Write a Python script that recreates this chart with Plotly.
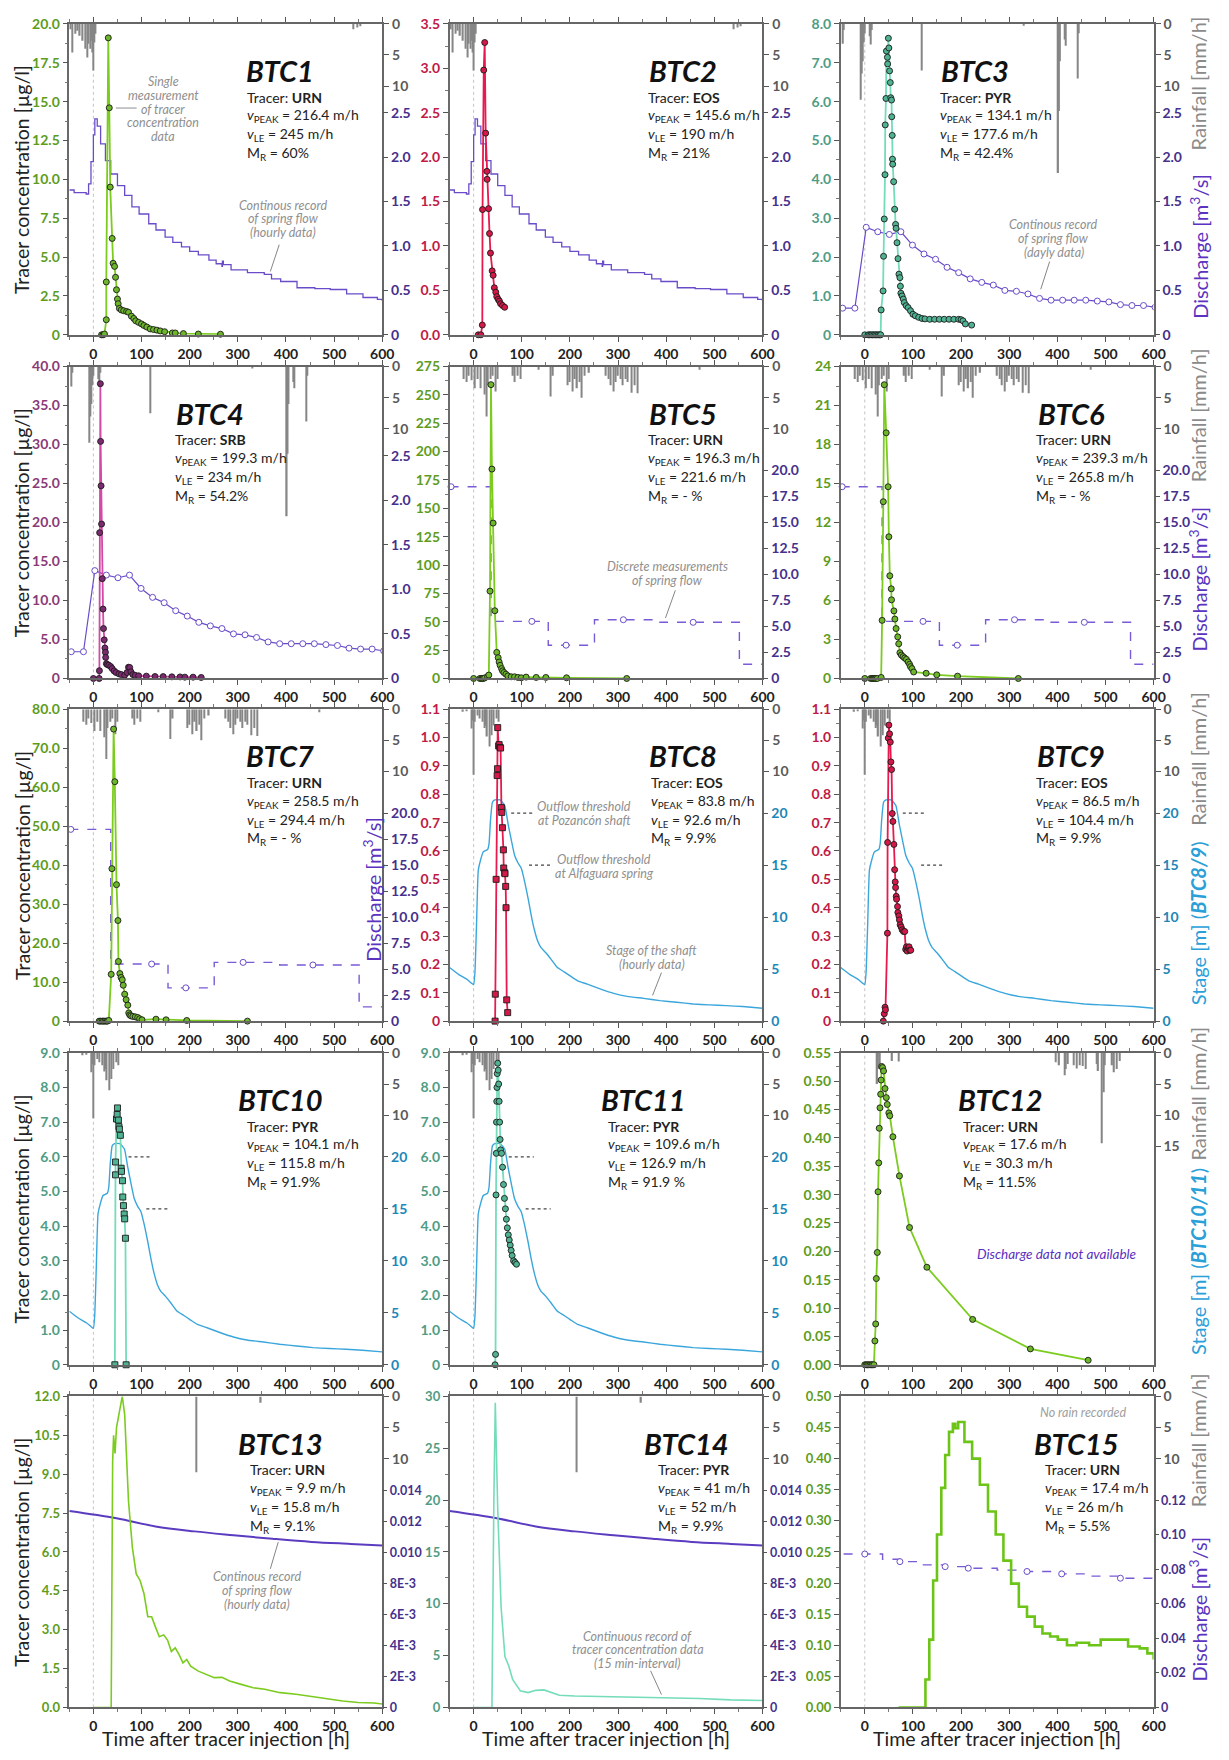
import plotly.graph_objects as go

W, H = 1229, 1760
COLS = [(70, 386), (454, 770), (849, 1165)]
ROWS = [(15, 329), (361, 676), (707, 1022), (1054, 1369), (1401, 1715)]
FONT = "Lato, 'Open Sans', sans-serif"

# ---------------- tracer data (time h, concentration) ----------------
BTC1_T = [17, 20, 23, 26.8, 26.8, 30.9, 33, 35, 39, 41, 44, 46, 48, 50, 51.5, 54, 58, 63, 69, 73, 79, 84, 88, 94, 100, 105, 111, 118, 125, 132, 139, 148, 164, 170, 187, 218, 264]
BTC1_C = [0, 0, 0.05, 0.97, 3.4, 19.1, 14.6, 9.5, 6.2, 4.6, 4.4, 3.7, 2.9, 2.3, 2.0, 1.7, 1.6, 1.55, 1.5, 1.45, 1.2, 1.05, 0.9, 0.8, 0.7, 0.6, 0.5, 0.38, 0.34, 0.3, 0.25, 0.2, 0.12, 0.12, 0.08, 0.05, 0.04]
BTC2_T = [9.6, 15, 18, 18.5, 21, 23, 25, 27.5, 28, 31, 33, 35, 38.5, 40.5, 43, 46, 48, 51, 53.5, 56, 60, 64.5]
BTC2_C = [0, 0, 0.11, 1.41, 2.98, 3.29, 2.27, 1.84, 1.75, 1.42, 1.14, 0.92, 0.72, 0.67, 0.53, 0.48, 0.43, 0.40, 0.38, 0.35, 0.33, 0.31]
BTC3_T = [0, 7, 10, 13, 16, 19, 22, 25, 28, 31, 33,
          34, 38, 39, 40.5, 42, 42.5, 44, 45, 47, 47.5, 49, 50, 51.5, 53, 54, 55.5, 56, 57, 57.5, 58,
          60, 62, 64, 65, 67, 69, 71, 73, 74, 75, 77.5, 80, 82, 86, 90, 95, 100, 105, 112, 119,
          125, 135, 145, 155, 165, 175, 185, 195, 200, 204, 209, 222]
BTC3_C = [0, 0, 0, 0, 0, 0, 0, 0, 0, 0, 0,
          0.64, 1.13, 2.02, 2.98, 4.12, 5.4, 6.08, 7.3, 7.14, 6.97, 7.63, 7.38, 6.79, 6.49, 6.1, 6.04, 5.61, 5.13, 4.52, 4.39,
          3.94, 3.23, 2.84, 2.74, 2.37, 1.96, 1.56, 1.47, 1.25, 1.07, 1.0, 0.92, 0.83, 0.75, 0.70, 0.62, 0.53, 0.49, 0.45, 0.42,
          0.41, 0.40, 0.40, 0.40, 0.40, 0.40, 0.40, 0.40, 0.39, 0.36, 0.28, 0.25]
BTC4_T = [0, 12, 12.5, 13, 14.5, 15, 16, 17, 18.5, 20, 21, 22.5, 24, 25, 25.5, 27, 29, 32, 36, 39, 43, 47, 53, 58, 65, 70, 73, 75.5, 78, 82, 87, 94, 110, 128, 145, 163, 180, 190, 207, 224]
BTC4_C = [0, 0, 1.0, 18.7, 37.8, 30.4, 24.7, 19.8, 12.8, 8.9, 6.4, 4.95, 3.9, 3.35, 2.7, 1.9, 1.78, 1.7, 1.52, 1.27, 0.97, 0.76, 0.59, 0.5, 0.42, 0.76, 1.44, 1.4, 0.85, 0.5, 0.4, 0.34, 0.3, 0.25, 0.24, 0.21, 0.2, 0.17, 0.17, 0.13]
BTC5_T = [0, 13, 16, 18, 20, 23, 29, 31.5, 34, 36, 38, 40.5, 44, 48, 51, 53, 55, 58, 60, 63, 67, 71, 78, 85, 92, 99, 109, 130, 150, 193, 318]
BTC5_C = [0, 0, 0, 0, 0, 0.5, 1.7, 3, 77, 259, 184.6, 137, 59.7, 23, 18.3, 14.5, 11.6, 8.7, 6.7, 5.2, 3.8, 2.3, 1.5, 1.5, 0.9, 0.6, 1.2, 0.9, 0.9, 0.6, 0]
BTC6_T = [0, 12, 15, 17, 19, 21, 23, 26, 34, 36, 38.5, 40.5, 44.5, 48.5, 50, 52, 55, 55.5, 60.5, 62.5, 65, 68.5, 70.5, 73, 76, 79.5, 83, 86.5, 90, 93, 95, 98, 101.5, 127.5, 149.5, 192.7, 319]
BTC6_C = [0, 0, 0, 0, 0, 0, 0, 0, 0.08, 4.47, 13.6, 22.6, 18.9, 14.75, 10.9, 7.9, 6.9, 6.05, 5.2, 4.57, 3.84, 3.2, 2.67, 1.98, 1.8, 1.68, 1.57, 1.47, 1.27, 1.09, 0.91, 0.76, 0.5, 0.4, 0.28, 0.18, 0]
BTC7_T = [12, 15, 18.5, 21, 24, 27, 29, 32, 37, 38.5, 42, 44.5, 48, 51, 52, 55, 57.5, 60, 62, 65, 68, 71.5, 73.5, 75.5, 78, 82, 87, 92, 96, 101, 130, 151, 194, 320]
BTC7_C = [0, 0, 0, 0, 0, 0, 0, 0.17, 12.0, 39.1, 74.9, 61.4, 35.0, 25.8, 15.3, 12.2, 11.2, 10.6, 9.2, 6.9, 5.5, 4.1, 2.1, 1.6, 1.35, 1.2, 1.1, 0.93, 0.6, 0.34, 0.5, 0.34, 0.17, 0]
BTC8_T = [44.6, 45, 46.7, 48.8, 49.5, 50, 52, 53, 55, 56, 57.7, 58.4, 59.8, 61.8, 62.5, 64.6, 65, 66.6, 67.3, 68.7, 70.7]
BTC8_C = [0, 0.095, 0.5, 0.866, 0.89, 1.035, 0.97, 0.975, 0.965, 0.963, 0.753, 0.736, 0.682, 0.604, 0.54, 0.523, 0.52, 0.475, 0.4, 0.075, 0.03]
BTC9_T = [38.5, 40.5, 42, 43, 47, 47.4, 48.8, 50, 51.5, 53, 54.3, 55.7, 57, 58.4, 60.5, 62, 63.2, 64, 65.3, 66, 68, 68.7, 70.8, 72, 73.5, 75.6, 77.7, 80.4, 83, 85, 86.6, 88, 90, 92, 93.5, 95.5]
BTC9_C = [0, 0.026, 0.049, 0.04, 0.31, 0.63, 0.998, 1.044, 1.013, 0.984, 0.914, 0.887, 0.732, 0.704, 0.623, 0.534, 0.491, 0.471, 0.44, 0.43, 0.404, 0.383, 0.371, 0.357, 0.34, 0.332, 0.322, 0.316, 0.316, 0.253, 0.262, 0.247, 0.258, 0.262, 0.25, 0.25]
BTC10_T = [44.6, 46, 46, 48, 49.4, 50, 52, 53, 54, 56, 57.7, 58.3, 60.4, 61, 62.5, 64, 65, 66.6, 68]
BTC10_C = [0, 5.48, 5.85, 7.09, 7.22, 7.41, 7.06, 6.87, 6.80, 6.62, 5.67, 5.58, 5.31, 4.84, 4.59, 4.35, 4.21, 3.65, 0]
BTC11_T = [44.5, 45.5, 46.5, 47, 47.5, 48, 48.5, 49, 50, 51, 52, 53, 54, 55, 56, 58, 60, 62, 64, 66, 68, 70, 72, 74, 76, 78, 80, 83, 86, 89]
BTC11_C = [0, 0.3, 4.9, 6.1, 7.0, 7.6, 8.0, 8.4, 8.7, 8.5, 8.1, 7.6, 7.0, 6.5, 6.2, 6.1, 5.7, 5.2, 4.8, 4.5, 4.2, 3.95, 3.75, 3.6, 3.45, 3.3, 3.15, 3.0, 2.95, 2.9]
BTC12_T = [0, 3, 5.5, 8, 11, 14, 16, 19, 21, 22.7, 24, 26, 27.5, 29, 30, 31.6, 33, 34, 35, 37, 39, 42, 44.7, 46.7, 50, 52, 58.4, 72, 93, 129, 224, 344, 464]
BTC12_C = [0, 0, 0, 0, 0, 0, 0, 0, 0.042, 0.072, 0.152, 0.198, 0.305, 0.356, 0.417, 0.453, 0.477, 0.502, 0.526, 0.524, 0.518, 0.487, 0.471, 0.459, 0.444, 0.439, 0.402, 0.333, 0.242, 0.172, 0.08, 0.028, 0.008]
BTC13_T = [0, 37, 40, 42, 45, 48, 52, 56, 60, 65, 73, 81, 89, 97, 105, 113, 121, 129, 137, 146, 154, 162, 170, 178, 186, 194, 202, 218, 235, 251, 267, 283, 307, 332, 356, 388, 421, 453, 485, 518, 550, 583, 600]
BTC13_C = [0, 0, 9.5, 10.5, 9.8, 10.8, 11.2, 11.6, 12.0, 11.3, 7.95, 6.17, 5.15, 4.9, 4.4, 3.5, 3.5, 3.1, 2.73, 2.8, 2.6, 2.16, 2.3, 2.04, 1.72, 1.85, 1.59, 1.4, 1.27, 1.15, 1.16, 1.02, 0.89, 0.76, 0.70, 0.57, 0.51, 0.42, 0.34, 0.25, 0.19, 0.17, 0.13]
BTC14_T = [0, 38, 42, 45, 50, 57, 65, 73, 81, 97, 113, 129, 146, 162, 178, 210, 275, 340, 405, 469, 534, 600]
BTC14_C = [0, 0, 20.0, 29.4, 19.2, 9.7, 4.9, 4.0, 2.7, 1.6, 1.43, 1.65, 1.69, 1.43, 1.18, 1.11, 1.05, 1.05, 0.95, 0.86, 0.73, 0.67]
BTC15_T = [70, 115, 118, 126, 134, 142, 150, 159, 167, 175, 183, 188, 194, 207, 223, 239, 256, 272, 288, 304, 320, 337, 353, 369, 385, 401, 420, 440, 466, 490, 531, 547, 571, 587, 600]
BTC15_C = [0, 0, 0, 0.045, 0.109, 0.204, 0.278, 0.353, 0.406, 0.443, 0.456, 0.449, 0.459, 0.427, 0.40, 0.358, 0.315, 0.278, 0.236, 0.199, 0.162, 0.146, 0.13, 0.119, 0.114, 0.109, 0.100, 0.104, 0.100, 0.109, 0.109, 0.098, 0.095, 0.087, 0.077]

# ---------------- discharge / stage ----------------
FLOW12_T = [-50, -42, -40, -15, -10, -5, 0, 3, 8, 15, 25, 36, 50, 65, 80, 95, 115, 130, 149, 165, 183, 200, 218, 240, 255, 267, 268, 270, 286, 320, 355, 370, 389, 423, 460, 492, 526, 560, 590, 600]
FLOW12_Q = [1.63, 1.63, 1.60, 1.585, 1.70, 1.95, 2.25, 2.43, 2.35, 2.15, 1.96, 1.81, 1.68, 1.57, 1.44, 1.36, 1.25, 1.18, 1.10, 1.04, 0.99, 0.94, 0.90, 0.84, 0.80, 0.77, 0.83, 0.79, 0.73, 0.70, 0.68, 0.63, 0.60, 0.53, 0.52, 0.51, 0.46, 0.42, 0.40, 0.38]
FLOW34_T = [-46, -20.6, 3, 27, 51, 75, 99, 123, 147, 171, 195, 219, 243, 267, 291, 315, 339, 363, 387, 411, 435, 459, 483, 507, 531, 555, 579, 603]
FLOW34_Q = [0.30, 0.30, 1.21, 1.16, 1.13, 1.16, 1.01, 0.91, 0.85, 0.76, 0.70, 0.63, 0.59, 0.56, 0.50, 0.49, 0.46, 0.41, 0.39, 0.39, 0.39, 0.39, 0.38, 0.37, 0.34, 0.33, 0.33, 0.31]
FLOW567_T = [-50, 36, 155, 251, 387, 552, 600]
FLOW567_Q = [18.44, 5.49, 3.2, 5.65, 5.4, 1.37, 1.37]
FLOW567_MT = [-47, 121, 192, 311, 456]
FLOW567_MQ = [18.44, 5.49, 3.2, 5.65, 5.4]
STAGE_T = [-50, -31.6, -14.4, -4, 0, 2.7, 6, 9.6, 14.4, 20, 29, 32, 35, 39, 44, 55, 64.6, 71.4, 78.3, 85, 92, 99, 106, 113, 120, 126, 133, 140, 150, 161, 174, 188, 202, 216, 236, 264, 291, 319, 353, 387, 422, 456, 490, 525, 559, 600]
STAGE_H = [5.15, 4.5, 4.04, 3.63, 3.5, 4.67, 9.3, 14.5, 15.5, 16.28, 16.5, 17.07, 19.3, 21.05, 21.27, 21.27, 20.73, 19.0, 17.4, 15.96, 15.23, 14.7, 13.4, 11.83, 10.08, 8.81, 7.7, 7.06, 6.58, 5.94, 5.15, 4.74, 4.3, 3.88, 3.56, 3.08, 2.67, 2.38, 2.19, 1.97, 1.81, 1.65, 1.56, 1.49, 1.4, 1.24]
THRESH_LEVEL = [20, 15]
THR8_START, THR8_END = [78, 115], [126, 164]
THR9_START, THR9_END = [79, 117], [126, 164]
THR10_START, THR10_END = [73, 110], [121, 159]
THR11_START, THR11_END = [73, 108], [125, 160]
FLOW1314_T = [-50, 48, 129, 210, 291, 372, 453, 534, 600]
FLOW1314_Q = [0.0127, 0.01223, 0.0117, 0.01138, 0.01113, 0.0109, 0.0107, 0.01057, 0.01047]
FLOW15_T = [-44, 37, 73, 120, 167, 215, 275, 337, 409, 470, 531, 600]
FLOW15_Q = [0.0888, 0.0858, 0.0844, 0.0825, 0.0815, 0.0806, 0.0795, 0.0787, 0.0773, 0.0760, 0.0748, 0.0748]
FLOW15_MT = [0, 73, 167, 215, 337, 409, 531]
FLOW15_MQ = [0.0888, 0.0844, 0.0815, 0.0806, 0.0787, 0.0773, 0.0748]

# ---------------- rainfall (mm/h) ----------------
RAIN12_T = [-47, -43, -38, -33, -28, -22, -17, -13, -10, -7, -4, -2, 0, 2, 5, 540, 548, 555]
RAIN12_P = [0.85, 4.6, 1.6, 1.1, 1.9, 2.7, 4.0, 5.4, 3.2, 4.0, 2.7, 4.6, 7.5, 3.0, 1.6, 0.85, 0.6, 0.4]
RAIN34_T = [-45, -43, -8, -6, -4, -2, 0, 10, 12, 14, 119, 330, 402, 404, 406, 415, 417, 443, 445]
RAIN34_P = [3.2, 1.0, 12.2, 8.0, 6.0, 3.0, 1.5, 2.0, 3.3, 1.0, 7.5, 0.3, 24.0, 14.0, 6.0, 2.5, 3.5, 8.8, 1.5]
RAIN567_T = [-20, -15, -10, -5, 3, 8, 15, 22, 27, 30, 35, 40, 46, 50, 82, 85, 92, 98, 135, 160, 165, 195, 200, 205, 210, 215, 220, 225, 230, 240, 275, 280, 285, 290, 295, 300, 305, 310, 315, 320, 328, 335, 340, 470]
RAIN567_P = [2.0, 2.5, 1.5, 2.2, 3.5, 2.0, 3.5, 4.5, 8.0, 3.0, 2.0, 1.5, 4.0, 2.0, 1.5, 2.5, 1.5, 2.0, 0.5, 4.8, 1.5, 3.0, 2.5, 4.0, 2.0, 3.5, 2.5, 5.0, 1.5, 1.0, 1.5, 2.0, 3.0, 4.0, 2.5, 1.5, 2.0, 3.0, 2.0, 2.5, 4.2, 3.0, 4.3, 0.5]
RAIN811_T = [-22, -15, -5, -2, 0, 3, 8, 13, 18, 22, 25, 28, 33, 37, 42, 48, 52]
RAIN811_P = [0.4, 0.3, 3.1, 1.8, 10.5, 2.0, 1.0, 1.5, 2.0, 3.0, 2.6, 4.4, 6.0, 4.2, 2.6, 1.5, 2.0]
RAIN12B_T = [26, 28, 31, 57, 71, 397, 404, 415, 418, 422, 434, 440, 446, 452, 459, 481, 485, 493, 496, 499, 514, 518, 524, 529]
RAIN12B_P = [5.0, 2.6, 2.1, 1.3, 1.4, 1.5, 2.0, 3.6, 2.6, 1.8, 2.0, 2.5, 2.0, 2.1, 2.6, 1.8, 2.9, 14.5, 6.3, 2.0, 2.0, 3.1, 2.6, 1.3]
RAIN1314_T = [214, 348]
RAIN1314_P = [12.2, 1.0]
RAIN15_T = []
RAIN15_P = []

# ---------------- text data ----------------
NAMES = ["BTC1", "BTC2", "BTC3", "BTC4", "BTC5", "BTC6", "BTC7", "BTC8", "BTC9", "BTC10", "BTC11", "BTC12", "BTC13", "BTC14", "BTC15"]
TRACERS = ["URN", "EOS", "PYR", "SRB", "URN", "URN", "URN", "EOS", "EOS", "PYR", "PYR", "URN", "URN", "PYR", "URN"]
V_PEAK = ["216.4", "145.6", "134.1", "199.3", "196.3", "239.3", "258.5", "83.8", "86.5", "104.1", "109.6", "17.6", "9.9", "41", "17.4"]
V_LE = ["245", "190", "177.6", "234", "221.6", "265.8", "294.4", "92.6", "104.4", "115.8", "126.9", "30.3", "15.8", "52", "26"]
M_R = ["60%", "21%", "42.4%", "54.2%", "- %", "- %", "- %", "9.9%", "9.9%", "91.9%", "91.9 %", "11.5%", "9.1%", "9.9%", "5.5%"]
X_TICKS = [0, 100, 200, 300, 400, 500, 600]

# colours
GREEN_L, GREEN_M, GREEN_T = "#7ccb1f", "#6db52b", "#5e9c1c"
RED_L, RED_M, RED_T = "#e8194e", "#d41848", "#c01a45"
TEAL_L, TEAL_M, TEAL_T = "#74dcb8", "#4fb393", "#4f9c84"
PLUM_L, PLUM_M, PLUM_T = "#d24aa6", "#7c2a70", "#8a3a78"
PURPLE, PURPLE_T = "#6a4cc9", "#46308c"
STAGE_C, STAGE_TC = "#3aa6dc", "#1d87b8"


def tick_set(step, n, fmt, zero):
    vals = [round(k * step, 6) for k in range(n + 1)]
    return vals, [zero if v == 0 else fmt.format(v) for v in vals], [0, step * n]


PANELS = [
    dict(tr=(BTC1_T, BTC1_C), lc=GREEN_L, mc=GREEN_M, tc=GREEN_T, sym="circle", ly=tick_set(2.5, 8, "{:.1f}", "0"),
         flow="hourly", fd=(FLOW12_T, FLOW12_Q), rain=(RAIN12_T, RAIN12_P)),
    dict(tr=(BTC2_T, BTC2_C), lc=RED_L, mc=RED_M, tc=RED_T, sym="circle", ly=tick_set(0.5, 7, "{:.1f}", "0.0"),
         flow="hourly", fd=(FLOW12_T, FLOW12_Q), rain=(RAIN12_T, RAIN12_P)),
    dict(tr=(BTC3_T, BTC3_C), lc=TEAL_L, mc=TEAL_M, tc=TEAL_T, sym="circle", ly=tick_set(1, 8, "{:.1f}", "0"),
         flow="daily", fd=(FLOW34_T, FLOW34_Q), rain=(RAIN34_T, RAIN34_P)),
    dict(tr=(BTC4_T, BTC4_C), lc=PLUM_L, mc=PLUM_M, tc=PLUM_T, sym="circle", ly=tick_set(5, 8, "{:.1f}", "0"),
         flow="daily", fd=(FLOW34_T, FLOW34_Q), rain=(RAIN34_T, RAIN34_P)),
    dict(tr=(BTC5_T, BTC5_C), lc=GREEN_L, mc=GREEN_M, tc=GREEN_T, sym="circle", ly=tick_set(25, 11, "{:.0f}", "0"),
         flow="step", fd=(FLOW567_T, FLOW567_Q, FLOW567_MT, FLOW567_MQ), rain=(RAIN567_T, RAIN567_P)),
    dict(tr=(BTC6_T, BTC6_C), lc=GREEN_L, mc=GREEN_M, tc=GREEN_T, sym="circle", ly=tick_set(3, 8, "{:.0f}", "0"),
         flow="step", fd=(FLOW567_T, FLOW567_Q, FLOW567_MT, FLOW567_MQ), rain=(RAIN567_T, RAIN567_P)),
    dict(tr=(BTC7_T, BTC7_C), lc=GREEN_L, mc=GREEN_M, tc=GREEN_T, sym="circle", ly=tick_set(10, 8, "{:.1f}", "0"),
         flow="step", fd=(FLOW567_T, FLOW567_Q, FLOW567_MT, FLOW567_MQ), rain=(RAIN567_T, RAIN567_P)),
    dict(tr=(BTC8_T, BTC8_C), lc=RED_L, mc=RED_M, tc=RED_T, sym="square", ly=tick_set(0.1, 11, "{:.1f}", "0"),
         flow="stage", fd=(STAGE_T, STAGE_H, THR8_START, THR8_END), rain=(RAIN811_T, RAIN811_P)),
    dict(tr=(BTC9_T, BTC9_C), lc=RED_L, mc=RED_M, tc=RED_T, sym="circle", ly=tick_set(0.1, 11, "{:.1f}", "0"),
         flow="stage", fd=(STAGE_T, STAGE_H, THR9_START, THR9_END), rain=(RAIN811_T, RAIN811_P)),
    dict(tr=(BTC10_T, BTC10_C), lc=TEAL_L, mc=TEAL_M, tc=TEAL_T, sym="square", ly=tick_set(1, 9, "{:.1f}", "0"),
         flow="stage", fd=(STAGE_T, STAGE_H, THR10_START, THR10_END), rain=(RAIN811_T, RAIN811_P)),
    dict(tr=(BTC11_T, BTC11_C), lc=TEAL_L, mc=TEAL_M, tc=TEAL_T, sym="circle", ly=tick_set(1, 9, "{:.1f}", "0"),
         flow="stage", fd=(STAGE_T, STAGE_H, THR11_START, THR11_END), rain=(RAIN811_T, RAIN811_P)),
    dict(tr=(BTC12_T, BTC12_C), lc=GREEN_L, mc=GREEN_M, tc=GREEN_T, sym="circle", ly=tick_set(0.05, 11, "{:.2f}", "0.00"),
         flow=None, fd=None, rain=(RAIN12B_T, RAIN12B_P)),
    dict(tr=(BTC13_T, BTC13_C), lc=GREEN_L, mc=None, tc=GREEN_T, sym=None, ly=tick_set(1.5, 8, "{:.1f}", "0.0"),
         flow="smooth", fd=(FLOW1314_T, FLOW1314_Q), rain=(RAIN1314_T, RAIN1314_P)),
    dict(tr=(BTC14_T, BTC14_C), lc=TEAL_L, mc=None, tc=TEAL_T, sym=None, ly=tick_set(5, 6, "{:.0f}", "0"),
         flow="smooth", fd=(FLOW1314_T, FLOW1314_Q), rain=(RAIN1314_T, RAIN1314_P)),
    dict(tr=(BTC15_T, BTC15_C), lc="#6cc417", mc=None, tc=GREEN_T, sym=None, ly=tick_set(0.05, 10, "{:.2f}", "0.00"),
         flow="step15", fd=(FLOW15_T, FLOW15_Q, FLOW15_MT, FLOW15_MQ), rain=(RAIN15_T, RAIN15_P)),
]

# right axis definitions
Q_SMALL = ([0, 0.5, 1, 1.5, 2, 2.5], ["0", "0.5", "1.0", "1.5", "2.0", "2.5"], [0, 3.5])
Q_BIG = ([k * 2.5 for k in range(9)], ["0"] + ["{:.1f}".format(k * 2.5) for k in range(1, 9)], [0, 30])
Q_STAGE = ([0, 5, 10, 15, 20], ["0", "5", "10", "15", "20"], [0, 30])
Q_TINY = ([0, 0.002, 0.004, 0.006, 0.008, 0.010, 0.012, 0.014], ["0", "2E-3", "4E-3", "6E-3", "8E-3", "0.010", "0.012", "0.014"], [0, 0.0201])
Q_15 = ([0, 0.02, 0.04, 0.06, 0.08, 0.10, 0.12], ["0", "0.02", "0.04", "0.06", "0.08", "0.10", "0.12"], [0, 0.18])
RIGHT = [Q_SMALL, Q_SMALL, Q_SMALL, Q_SMALL, Q_BIG, Q_BIG, Q_BIG, Q_STAGE, Q_STAGE, Q_STAGE, Q_STAGE, None, Q_TINY, Q_TINY, Q_15]

TITLE_FX = [0.674, 0.747, 0.43, 0.45, 0.747, 0.737, 0.674, 0.747, 0.737, 0.674, 0.62, 0.51, 0.674, 0.756, 0.753]
INFO_FX = [0.56, 0.627, 0.31, 0.33, 0.627, 0.617, 0.56, 0.636, 0.617, 0.56, 0.50, 0.386, 0.57, 0.66, 0.645]


def yid(n):
    return "y" if n == 1 else f"y{n}"


def yname(n):
    return "yaxis" if n == 1 else f"yaxis{n}"


fig = go.Figure()
layout = {}
shapes = []
annotations = []


def ann(x, y, text, size=14, color="#222", xanchor="center", angle=0, family=FONT):
    annotations.append(dict(xref="paper", yref="paper", x=x / W, y=1 - y / H, text=text, showarrow=False,
                            xanchor=xanchor, yanchor="middle", textangle=angle,
                            font=dict(family=family, size=size, color=color)))


def seg(x0, y0, x1, y1, color="#777", width=1, dash="solid"):
    shapes.append(dict(type="line", xref="paper", yref="paper", x0=x0 / W, y0=1 - y0 / H, x1=x1 / W, y1=1 - y1 / H,
                       line=dict(color=color, width=width, dash=dash)))


def tickfont(c, size=14):
    return dict(family=FONT, size=size, color=c, weight="bold")


for i, p in enumerate(PANELS):
    r, c = divmod(i, 3)
    xl, xr = COLS[c]
    yt, yb = ROWS[r]
    xid = "x" if i == 0 else f"x{i + 1}"
    xname = "xaxis" if i == 0 else f"xaxis{i + 1}"
    nr, nq, nc = 3 * i + 1, 3 * i + 2, 3 * i + 3
    yr, yq, yc = yid(nr), yid(nq), yid(nc)
    small = r == 4  # bottom row has denser side labels

    layout[xname] = dict(domain=[xl / W, xr / W], anchor=yr, range=[-50, 600], tickmode="array", tickvals=X_TICKS,
                         ticks="outside", ticklen=5, tickcolor="#555", showline=True, linecolor="#666",
                         linewidth=2, mirror="ticks", showgrid=False, zeroline=False, tickfont=tickfont("#222"),
                         minor=dict(dtick=50, tick0=0, ticklen=3, ticks="outside", tickcolor="#777"))
    rain_vals = [0, 5, 10, 15] if i == 11 else [0, 5, 10]
    layout[yname(nr)] = dict(domain=[1 - yb / H, 1 - yt / H], anchor=xid, side="right", range=[50, 0],
                             tickmode="array", tickvals=rain_vals, ticktext=[str(v) for v in rain_vals],
                             ticks="outside", ticklen=5, tickcolor="#555", showline=True, linecolor="#666",
                             linewidth=2, showgrid=False, zeroline=False, tickfont=tickfont("#5a5a5a"))
    rq = RIGHT[i]
    if rq is None:
        layout[yname(nq)] = dict(overlaying=yr, anchor=xid, side="right", range=[0, 1], visible=False,
                                 showgrid=False, zeroline=False)
    else:
        qcol = STAGE_TC if rq is Q_STAGE else PURPLE_T
        layout[yname(nq)] = dict(overlaying=yr, anchor=xid, side="right", range=rq[2], tickmode="array",
                                 tickvals=rq[0], ticktext=rq[1], ticks="outside", ticklen=4 if small else 5,
                                 tickcolor="#555", showline=False, showgrid=False, zeroline=False,
                                 tickfont=tickfont(qcol, 12.5 if small else 14))
    lv, lt, lr = p["ly"]
    step = lv[1]
    layout[yname(nc)] = dict(overlaying=yr, anchor=xid, side="left", range=lr, tickmode="array", tickvals=lv,
                             ticktext=lt, ticks="outside", ticklen=5, tickcolor="#555", showline=True,
                             linecolor="#6a6a6a", linewidth=1.5, showgrid=False, zeroline=False,
                             tickfont=tickfont(p["tc"], 13 if small else 14),
                             minor=dict(dtick=step / 2, tick0=0, ticklen=3, ticks="outside", tickcolor="#777"))

    # injection time line
    shapes.append(dict(type="line", xref=xid, yref=f"{yr} domain", x0=0, x1=0, y0=0, y1=1, layer="below",
                       line=dict(color="#c4c4c4", width=1, dash="dot")))

    # rainfall (always added so that the base subplot exists)
    fig.add_trace(go.Bar(x=p["rain"][0], y=p["rain"][1], xaxis=xid, yaxis=yr, width=2.6,
                         marker=dict(color="#868686", line_width=0), showlegend=False))

    # discharge / stage
    fk, fd = p["flow"], p["fd"]
    if fk == "hourly":
        fig.add_trace(go.Scatter(x=fd[0], y=fd[1], xaxis=xid, yaxis=yq, mode="lines",
                                 line=dict(color=PURPLE, width=1.3, shape="hv"), showlegend=False))
    elif fk == "daily":
        fig.add_trace(go.Scatter(x=fd[0], y=fd[1], xaxis=xid, yaxis=yq, mode="lines+markers",
                                 line=dict(color=PURPLE, width=1.2),
                                 marker=dict(symbol="circle", size=6, color="white", line=dict(color=PURPLE, width=1)),
                                 showlegend=False))
    elif fk in ("step", "step15"):
        fig.add_trace(go.Scatter(x=fd[0], y=fd[1], xaxis=xid, yaxis=yq, mode="lines",
                                 line=dict(color="#7a5bd6", width=1.4, shape="hv", dash="dash"), showlegend=False))
        fig.add_trace(go.Scatter(x=fd[2], y=fd[3], xaxis=xid, yaxis=yq, mode="markers", cliponaxis=False,
                                 marker=dict(symbol="circle", size=6, color="white", line=dict(color=PURPLE, width=1)),
                                 showlegend=False))
    elif fk == "stage":
        fig.add_trace(go.Scatter(x=fd[0], y=fd[1], xaxis=xid, yaxis=yq, mode="lines",
                                 line=dict(color=STAGE_C, width=1.4, shape="spline", smoothing=0.4),
                                 showlegend=False))
        for lvl, s, e in zip(THRESH_LEVEL, fd[2], fd[3]):
            fig.add_trace(go.Scatter(x=[s, e], y=[lvl, lvl], xaxis=xid, yaxis=yq, mode="lines",
                                     line=dict(color="#444", width=1.2, dash="dot"), showlegend=False))
    elif fk == "smooth":
        fig.add_trace(go.Scatter(x=fd[0], y=fd[1], xaxis=xid, yaxis=yq, mode="lines",
                                 line=dict(color="#5b3cc0", width=2, shape="spline"), showlegend=False))
    else:
        fig.add_trace(go.Scatter(x=[], y=[], xaxis=xid, yaxis=yq, mode="lines", showlegend=False))

    # tracer
    tt, cc = p["tr"]
    if p["mc"] is not None:
        fig.add_trace(go.Scatter(x=tt, y=cc, xaxis=xid, yaxis=yc, mode="lines+markers", cliponaxis=False,
                                 line=dict(color=p["lc"], width=1.8),
                                 marker=dict(symbol=p["sym"], size=6, color=p["mc"], line=dict(color="#1b1b1b", width=0.9)),
                                 showlegend=False))
    else:
        fig.add_trace(go.Scatter(x=tt, y=cc, xaxis=xid, yaxis=yc, mode="lines", cliponaxis=False,
                                 line=dict(color=p["lc"], width=2.6 if i == 14 else 1.6,
                                           shape="hv" if i == 14 else "linear"),
                                 showlegend=False))

    # title and info block
    w = xr - xl
    ann(xl + TITLE_FX[i] * w, yt + 47, f"<b><i>{NAMES[i]}</i></b>", size=29, color="#111")
    ix = xl + INFO_FX[i] * w
    ann(ix, yt + 74, f"Tracer: <b>{TRACERS[i]}</b>", size=14, xanchor="left")
    ann(ix, yt + 93, f"<i>v</i><sub>PEAK</sub> = {V_PEAK[i]} m/h", size=14, xanchor="left")
    ann(ix, yt + 112, f"<i>v</i><sub>LE</sub> = {V_LE[i]} m/h", size=14, xanchor="left")
    ann(ix, yt + 131, f"M<sub>R</sub> = {M_R[i]}", size=14, xanchor="left")


def note(lines, cx, y0, dy=14, size=12.5, color="#8f8f8f"):
    for k, t in enumerate(lines):
        ann(cx, y0 + k * dy, f"<i>{t}</i>", size=size, color=color)


note(["Single", "measurement", "of tracer", "concentration", "data"], 165, 73)
seg(117, 100, 138, 100, "#8f8f8f", 1)
note(["Continous record", "of spring flow", "(hourly data)"], 286, 198)
seg(282, 238, 273, 265, "#666", 0.8)
note(["Continous record", "of spring flow", "(dayly data)"], 1064, 218)
seg(1060, 255, 1051, 283, "#666", 0.8)
note(["Discrete measurements", "of spring flow"], 674, 563)
seg(682, 587, 672, 615, "#666", 0.8)
note(["Outflow threshold", "at Pozancón shaft"], 590, 805)
note(["Outflow threshold", "at Alfaguara spring"], 610, 859)
note(["Stage of the shaft", "(hourly data)"], 658, 951)
seg(668, 973, 659, 996, "#666", 0.8)
ann(1067, 1257, "<i>Discharge data not available</i>", size=13.5, color="#5a2fc0")
note(["Continous record", "of spring flow", "(hourly data)"], 260, 1583)
seg(281, 1548, 273, 1575, "#666", 0.8)
note(["Continuous record of", "tracer concentration data", "(15 min-interval)"], 644, 1643)
seg(657, 1678, 668, 1702, "#666", 0.8)
ann(1094, 1417, "<i>No rain recorded</i>", size=12.5, color="#a0a0a0")

# axis titles
for r in range(5):
    yt, yb = ROWS[r]
    ann(22, (yt + yb) / 2, "Tracer concentration [µg/l]", size=19.5, color="#222", angle=-90)
for cx in [(a + b) / 2 for a, b in COLS]:
    ann(cx, 1746, "Time after tracer injection [h]", size=19.5, color="#222")

GRAY_L = "#8a8a8a"
ann(1210, 75, "Rainfall [mm/h]", size=20, color=GRAY_L, angle=-90)
ann(1210, 240, "Discharge [m<sup>3</sup>/s]", size=20, color="#5b33c0", angle=-90)
ann(1210, 410, "Rainfall [mm/h]", size=20, color=GRAY_L, angle=-90)
ann(1210, 576, "Discharge [m<sup>3</sup>/s]", size=20, color="#5b33c0", angle=-90)
ann(1210, 757, "Rainfall [mm/h]", size=20, color=GRAY_L, angle=-90)
ann(1210, 923, "Stage [m] (<b><i>BTC8/9</i></b>)", size=20, color="#2aa0d8", angle=-90)
ann(1210, 1095, "Rainfall [mm/h]", size=20, color=GRAY_L, angle=-90)
ann(1210, 1265, "Stage [m] (<b><i>BTC10/11</i></b>)", size=20, color="#2aa0d8", angle=-90)
ann(1210, 1445, "Rainfall [mm/h]", size=20, color=GRAY_L, angle=-90)
ann(1210, 1616, "Discharge [m<sup>3</sup>/s]", size=20, color="#5b33c0", angle=-90)
ann(376, 889, "Discharge [m<sup>3</sup>/s]", size=20, color="#5b33c0", angle=-90)

fig.update_layout(width=W, height=H, margin=dict(l=0, r=0, t=0, b=0), paper_bgcolor="white",
                  plot_bgcolor="white", showlegend=False, barmode="overlay", font=dict(family=FONT),
                  shapes=shapes, annotations=annotations, **layout)
fig.write_html("out.html")
